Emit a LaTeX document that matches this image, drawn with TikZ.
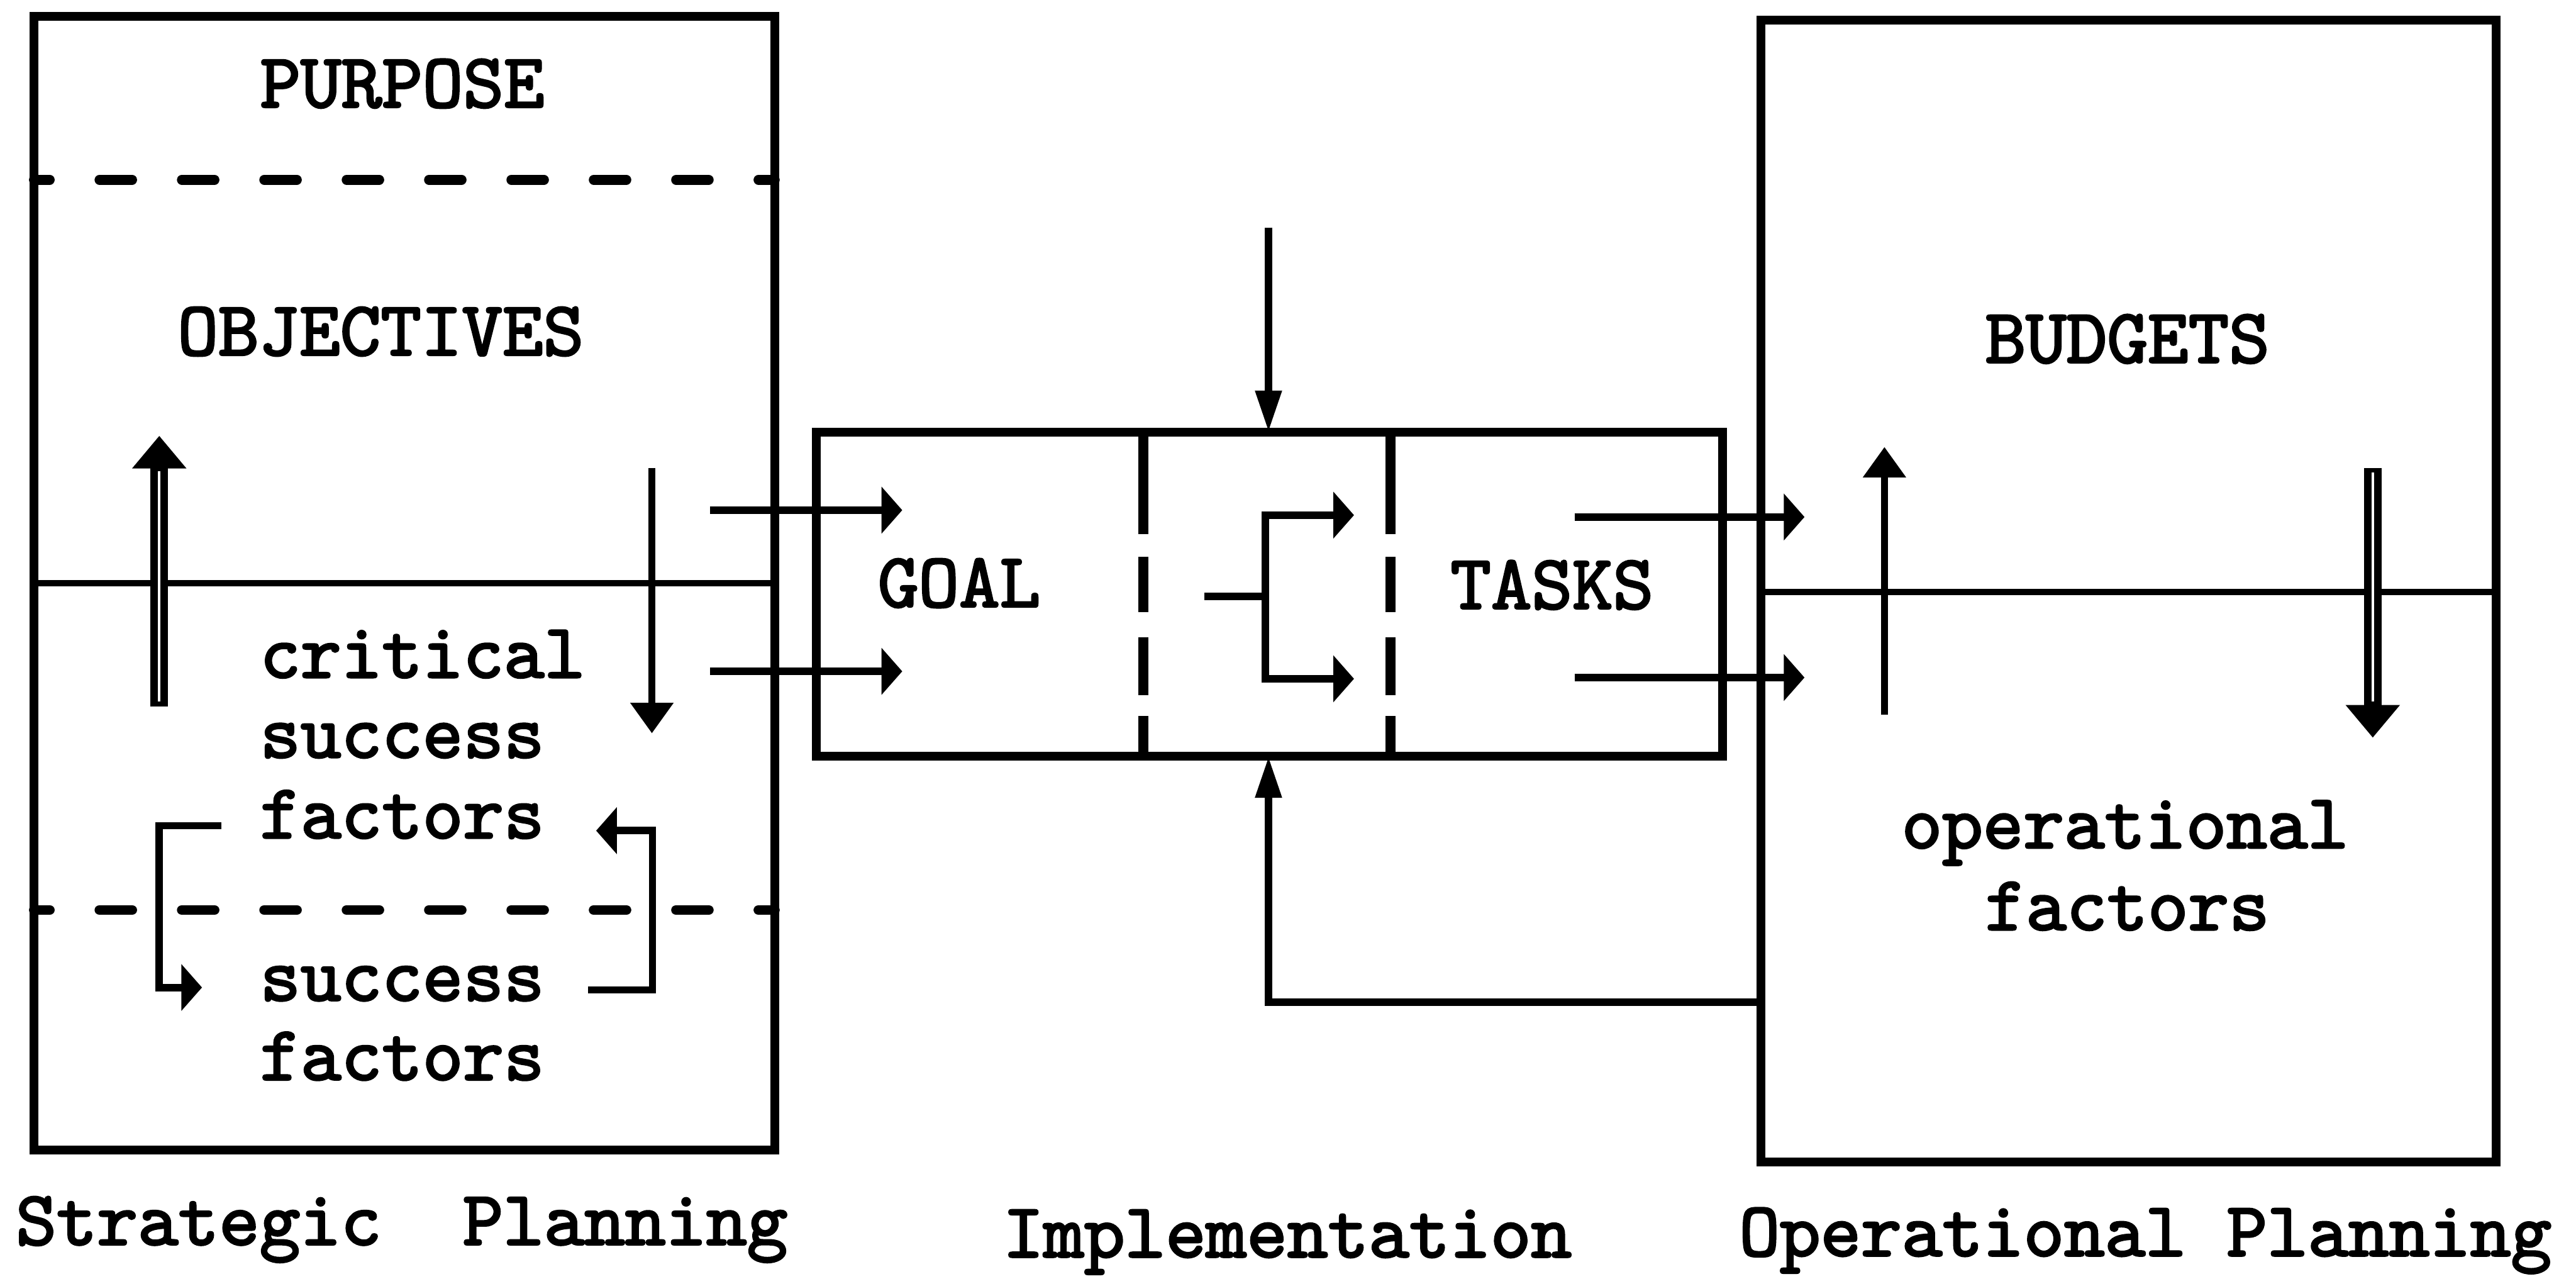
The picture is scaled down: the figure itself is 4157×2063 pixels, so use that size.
\documentclass[tikz,border=0pt]{standalone}
\usepackage{fontspec}
\newfontfamily\twfont[FakeBold=2.5]{lmmono10-regular.otf}
\usetikzlibrary{arrows.meta}
\begin{document}
\begin{tikzpicture}[x=0.01cm,y=-0.01cm,
  box/.style={draw, line width=4pt, rectangle, inner sep=0pt, outer sep=0pt},
  txt/.style={font=\fontsize{35.5}{40}\selectfont\twfont, inner sep=0pt, anchor=base west},
  conn/.style={line width=3.4pt},
  wedge/.style={conn, -{Triangle[length=9.5pt 0 0, width=21pt 0 0]}},
  narrow/.style={conn, -{Triangle[length=19pt 0 0, width=11.5pt 0 0]}},
  single/.style={conn, -{Triangle[length=14pt 0 0, width=19pt 0 0]}},
  dbl/.style={line width=8pt, -{Triangle[length=15pt 0 0, width=24pt 0 0]}},
  dsh/.style={line width=4.5pt, line cap=round, dash pattern=on 15pt off 22.8pt, dash phase=7.7pt},
  vdsh/.style={line width=4.5pt},
  divider/.style={line width=3pt},
]
\useasboundingbox (0,0) rectangle (4157,2063);

% boxes
\node[box, minimum width=11.95cm, minimum height=18.28cm] (strat) at (652.5,941) {};
\node[box, minimum width=11.86cm, minimum height=18.41cm] (oper) at (3435,953.5) {};
\node[box, minimum width=14.61cm, minimum height=5.23cm] (impl) at (2048.5,958.5) {};

% dividers
\draw[divider] (strat.west |- 0,941) -- (strat.east |- 0,941);
\draw[divider] (oper.west |- 0,955) -- (oper.east |- 0,955);
\draw[dsh] (strat.west |- 0,290) -- (strat.east |- 0,290);
\draw[dsh] (strat.west |- 0,1468) -- (strat.east |- 0,1468);
\draw[vdsh] (1845,697) -- (1845,862) (1845,898) -- (1845,987) (1845,1028) -- (1845,1121) (1845,1155) -- (1845,1220);
\draw[vdsh] (2244,697) -- (2244,862) (2244,898) -- (2244,987) (2244,1028) -- (2244,1121) (2244,1155) -- (2244,1220);

% texts
\node[txt] (purpose) at (419,173) {PURPOSE};
\node[txt] (objectives) at (286,573) {OBJECTIVES};
\node[txt] (csf1) at (419,1093) {critical};
\node[txt] (csf2) at (419,1222) {success};
\node[txt] (csf3) at (419,1352) {factors};
\node[txt] (sf1) at (419,1614) {success};
\node[txt] (sf2) at (419,1742) {factors};
\node[txt] (goal) at (1416,979) {GOAL};
\node[txt] (tasks) at (2340,982) {TASKS};
\node[txt] (budgets) at (3203,585) {BUDGETS};
\node[txt] (of1) at (3068,1368) {operational};
\node[txt] (of2) at (3203,1500) {factors};
\node[txt] (lbl1) at (25,2008) {Strategic\ \ Planning};
\node[txt] (lbl2) at (1618,2028) {Implementation};
\node[txt] (lbl3) at (2806,2026) {Operational Planning};

% coordinates
\coordinate (a1s) at (1146,823); \coordinate (a1e) at (1456,823);
\coordinate (a2s) at (1146,1083); \coordinate (a2e) at (1456,1083);
\coordinate (t1s) at (2541,834); \coordinate (t1e) at (2912,834);
\coordinate (t2s) at (2541,1093); \coordinate (t2e) at (2912,1093);
\coordinate (topin) at (2047,367);
\coordinate (fb) at (oper.west |- 0,1617);
\coordinate (fk) at (1944,962); \coordinate (fkm) at (2042,962);
\coordinate (fu) at (2185,831); \coordinate (fd) at (2185,1095);

% connectors
\draw[wedge] (a1s) -- (a1e);
\draw[wedge] (a2s) -- (a2e);
\draw[wedge] (t1s) -- (t1e);
\draw[wedge] (t2s) -- (t2e);
\draw[narrow] (topin) -- (topin |- impl.north);
\draw[narrow] (fb) -| (impl.south -| topin);
\draw[conn] (fk) -- (fkm);
\draw[wedge] (fkm) |- (fu);
\draw[wedge] (fkm) |- (fd);

% brackets
\draw[wedge] (357,1332) -- (257,1332) -- (257,1593) -- (326,1593);
\draw[wedge] (949,1597) -- (1053,1597) -- (1053,1340) -- (962,1340);

% vertical arrows
\draw[single] (1052,755) -- (1052,1183);
\draw[single] (3041,1153) -- (3041,721);
\draw[dbl] (257,1140) -- (257,703);
\draw[white, line width=1pt] (257,1132) -- (257,760);
\draw[dbl] (3829,755) -- (3829,1190);
\draw[white, line width=1pt] (3829,762) -- (3829,1132);
\end{tikzpicture}
\end{document}
